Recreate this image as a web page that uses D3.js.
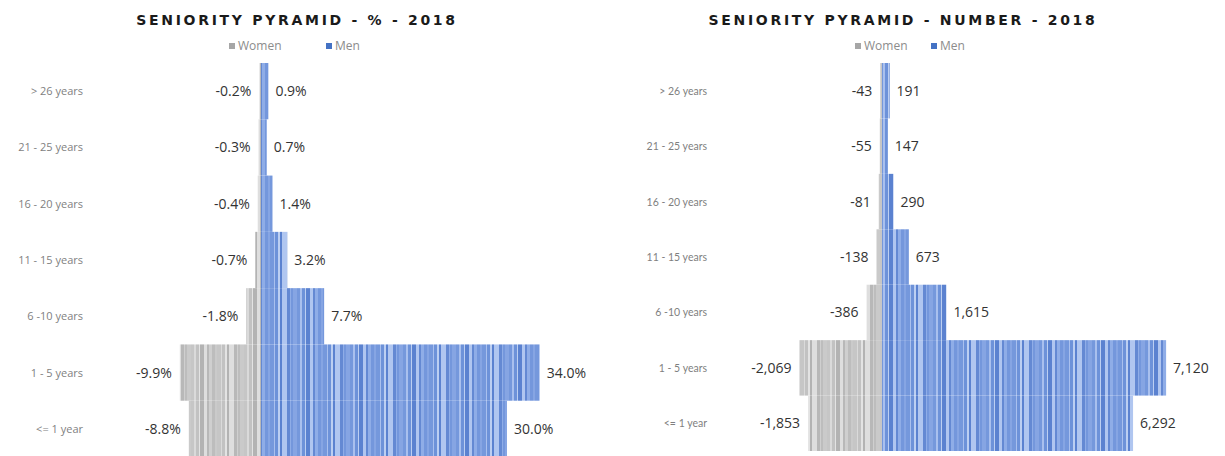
<!DOCTYPE html>
<html><head><meta charset="utf-8">
<script src="https://cdn.jsdelivr.net/npm/d3@7"></script>
<style>
html,body{margin:0;padding:0;background:#fff;}
svg{display:block;}
</style></head>
<body>
<svg id="chart" width="1225" height="456"></svg>
<script>
// ---- data ----
const categories = ["> 26 years", "21 - 25 years", "16 - 20 years", "11 - 15 years", "6 -10 years", "1 - 5 years", "<= 1 year"];
const categoriesRight = ["> 26 years", "21 - 25 years", "16 - 20 years", "11 - 15 years", "6 -10 years", "1 - 5 years", "<= 1 year"];
const womenPct = [-0.2, -0.3, -0.4, -0.7, -1.8, -9.9, -8.8];
const menPct = [0.9, 0.7, 1.4, 3.2, 7.7, 34.0, 30.0];
const womenNum = [-43, -55, -81, -138, -386, -2069, -1853];
const menNum = [191, 147, 290, 673, 1615, 7120, 6292];
const seriesNames = ["Women", "Men"];
const titles = ["SENIORITY PYRAMID - % - 2018", "SENIORITY PYRAMID - NUMBER - 2018"];

const svg = d3.select("#chart");
const defs = svg.append("defs");

// striped fill patterns (style only)
const stripeWidths = [3,2,4,1,3,2,2,5,3,1,2,4,3,2,3,1,4,3,2,3];
const greyShades = ["#bdbdbd","#dadada","#b3b3b3","#cfcfcf","#c6c6c6","#e3e3e3","#b8b8b8","#cacaca","#c2c2c2","#dedede"];
const blueShades = ["#7497dc","#a9c0ee","#5b82d0","#8fade7","#7598dc","#bccff2","#6489d3","#86a5e3","#6d92d9","#b0c6f0"];
function makePattern(id, shades){
  const total = d3.sum(stripeWidths);
  const p = defs.append("pattern").attr("id", id).attr("patternUnits","userSpaceOnUse")
    .attr("width", total).attr("height", 10);
  let x = 0;
  stripeWidths.forEach((w,i)=>{
    p.append("rect").attr("x",x).attr("y",0).attr("width",w).attr("height",10)
      .attr("fill", shades[(i*7)%shades.length]);
    x += w;
  });
}
makePattern("greyStripes", greyShades);
makePattern("blueStripes", blueShades);

const dash = s => s.replace(/\u2212/g, "-");

function drawPyramid(opts){
  const {women, men, cats, zero, pxPerUnit, yTop, yBottom, labelRight, fmt, title, titleX, legendX, catFont, catSize} = opts;
  const g = svg.append("g");
  const x = d3.scaleLinear().domain([0, 1]).range([zero, zero + pxPerUnit]);
  const y = d3.scaleBand().domain(cats).range([yTop, yBottom]).padding(0);

  g.append("text").attr("x", titleX).attr("y", 25).attr("text-anchor","middle")
    .attr("font-family","'DejaVu Sans', sans-serif").attr("font-weight","bold")
    .attr("font-size", 14).attr("letter-spacing", 2.7).attr("fill","#1a1a1a").text(title);

  // legend
  const lg = g.append("g").attr("transform", `translate(${legendX},50)`);
  const legColors = ["#a6a6a6", "#4472c4"];
  let lx = 0;
  seriesNames.forEach((n,i)=>{
    lg.append("rect").attr("x", lx).attr("y", -7).attr("width",6).attr("height",6).attr("fill", legColors[i]);
    lg.append("text").attr("x", lx+9).attr("y", 0).attr("font-family","'Open Sans', sans-serif")
      .attr("font-size", 12).attr("fill","#8c8c8c").text(n);
    lx += opts.legendGap;
  });

  // category axis labels
  g.selectAll(".cat").data(cats).join("text").attr("class","cat")
    .attr("x", labelRight).attr("y", d => y(d) + y.bandwidth()/2 + 4)
    .attr("text-anchor","end").attr("font-family", catFont).attr("font-size", catSize)
    .attr("fill","#7f7f7f").text(d => d);

  // bars
  g.selectAll(".w").data(women).join("rect").attr("class","w")
    .attr("x", d => x(d)).attr("width", d => x(0) - x(d))
    .attr("y", (d,i) => y(cats[i])).attr("height", y.bandwidth())
    .attr("fill","url(#greyStripes)");
  g.selectAll(".m").data(men).join("rect").attr("class","m")
    .attr("x", x(0)).attr("width", d => x(d) - x(0))
    .attr("y", (d,i) => y(cats[i])).attr("height", y.bandwidth())
    .attr("fill","url(#blueStripes)");

  // value labels
  g.selectAll(".wl").data(women).join("text").attr("class","wl")
    .attr("x", d => x(d) - 8).attr("y", (d,i) => y(cats[i]) + y.bandwidth()/2 + 5)
    .attr("text-anchor","end").attr("font-family","'Open Sans', sans-serif").attr("font-size", 14)
    .attr("fill","#333").text(d => fmt(d));
  g.selectAll(".ml").data(men).join("text").attr("class","ml")
    .attr("x", d => x(d) + 7).attr("y", (d,i) => y(cats[i]) + y.bandwidth()/2 + 5)
    .attr("text-anchor","start").attr("font-family","'Open Sans', sans-serif").attr("font-size", 14)
    .attr("fill","#333").text(d => fmt(d));
}

drawPyramid({
  women: womenPct, men: menPct, cats: categories,
  zero: 261, pxPerUnit: 8.2, yTop: 63, yBottom: 457, labelRight: 83,
  fmt: d => dash(d3.format(".1f")(d)) + "%", title: titles[0], titleX: 297,
  legendX: 229, legendGap: 97, catFont: "'Open Sans', sans-serif", catSize: 11
});
drawPyramid({
  women: womenNum, men: menNum, cats: categoriesRight,
  zero: 882, pxPerUnit: 0.0399, yTop: 63, yBottom: 451, labelRight: 707,
  fmt: d => dash(d3.format(",")(d)), title: titles[1], titleX: 903,
  legendX: 855, legendGap: 76, catFont: "'Lato', sans-serif", catSize: 10.5
});
</script>
</body></html>
